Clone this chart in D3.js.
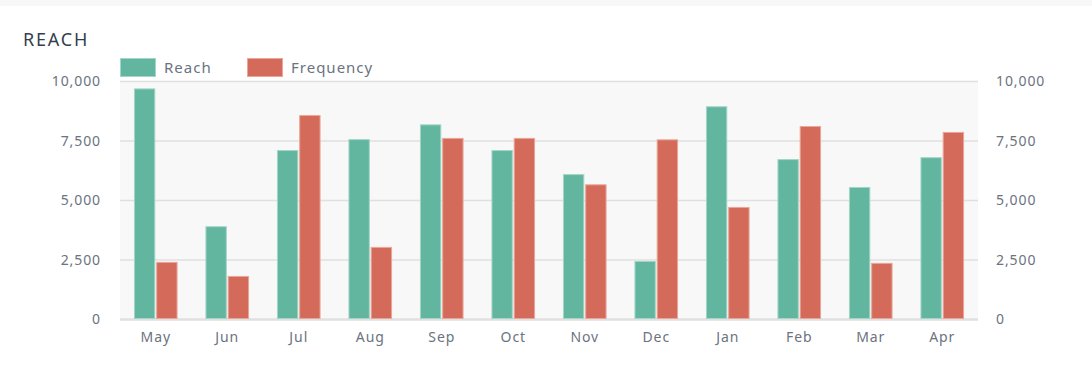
<!DOCTYPE html>
<html><head><meta charset="utf-8">
<script src="https://cdn.jsdelivr.net/npm/d3@7"></script>
<style>
html,body{margin:0;padding:0;background:#fff;}
svg{display:block;font-family:"Noto Sans",sans-serif;}
</style></head>
<body><svg id="c" width="1092" height="380"></svg>
<script>
const months = ["May","Jun","Jul","Aug","Sep","Oct","Nov","Dec","Jan","Feb","Mar","Apr"];
const reach = [9710,3920,7120,7580,8200,7120,6110,2460,8960,6740,5570,6820];
const frequency = [2420,1830,8590,3050,7630,7630,5680,7570,4730,8130,2380,7880];
const yTicks = [0,2500,5000,7500,10000];
const seriesNames = ["Reach","Frequency"];

const svg = d3.select("#c");
const W = 1092, H = 380;
const m = {left:120, right:114, top:81.5, bottom:60.5};
const pw = W - m.left - m.right, ph = H - m.top - m.bottom;

svg.append("rect").attr("x",0).attr("y",0).attr("width",W).attr("height",6).attr("fill","#f7f7f7");

svg.append("text").attr("x",23).attr("y",45.5).text("REACH")
  .attr("font-size",18).attr("fill","#333f4f").attr("letter-spacing","1.8px");

const g = svg.append("g").attr("transform",`translate(${m.left},${m.top})`);
const x0 = d3.scaleBand().domain(months).range([0,pw]).paddingInner(0.39).paddingOuter(0.195);
const x1 = d3.scaleBand().domain(seriesNames).range([0,x0.bandwidth()]).paddingInner(0.04);
const y = d3.scaleLinear().domain([0,10000]).range([ph,0]);

g.append("rect").attr("width",pw).attr("height",ph).attr("fill","#f8f8f8");

g.selectAll(".grid").data(yTicks).join("line")
  .attr("x1",0).attr("x2",pw).attr("y1",d=>y(d)).attr("y2",d=>y(d))
  .attr("stroke","#e0e0e0").attr("stroke-width",d=>(d===0?2.5:1.5));

const colors = {Reach:{fill:"#62b6a0",stroke:"#a3d6c6"},Frequency:{fill:"#d46a5a",stroke:"#eaa699"}};
const rows = months.map((mo,i)=>({mo, vals:[{k:"Reach",v:reach[i]},{k:"Frequency",v:frequency[i]}]}));
const grp = g.selectAll(".grp").data(rows).join("g").attr("transform",d=>`translate(${x0(d.mo)},0)`);
grp.selectAll("rect").data(d=>d.vals).join("rect")
  .attr("x",d=>x1(d.k)+0.5).attr("width",x1.bandwidth()-1)
  .attr("y",d=>y(d.v)+0.5).attr("height",d=>y(0)-y(d.v)-1.5)
  .attr("fill",d=>colors[d.k].fill).attr("stroke",d=>colors[d.k].stroke).attr("stroke-width",1);

const tickStyle = sel => sel.attr("font-size",14).attr("fill","#6b7380").attr("letter-spacing","0.9px");
const fmt = d3.format(",");
const yl = d3.axisLeft(y).tickValues(yTicks).tickFormat(fmt).tickSize(0).tickPadding(19);
const yr = d3.axisRight(y).tickValues(yTicks).tickFormat(fmt).tickSize(0).tickPadding(18);
const gl = g.append("g").call(yl); gl.select(".domain").remove();
gl.selectAll("text").call(tickStyle).attr("font-family","Noto Sans");
const gr = g.append("g").attr("transform",`translate(${pw},0)`).call(yr); gr.select(".domain").remove();
gr.selectAll("text").call(tickStyle).attr("font-family","Noto Sans");
const xa = d3.axisBottom(x0).tickSize(0).tickPadding(11);
const gx = g.append("g").attr("transform",`translate(0,${ph})`).call(xa); gx.select(".domain").remove();
gx.selectAll("text").call(tickStyle).attr("font-family","Noto Sans").attr("dy","0.85em");

const leg = svg.append("g");
const legX = [120,247];
seriesNames.forEach((s,i)=>{
  leg.append("rect").attr("x",legX[i]+0.5).attr("y",58.5).attr("width",35).attr("height",18)
    .attr("fill",colors[s].fill).attr("stroke",colors[s].stroke);
  leg.append("text").attr("x",legX[i]+44).attr("y",73).text(s)
    .attr("font-size",15).attr("fill","#6b7380").attr("letter-spacing","1px");
});
</script></body></html>
